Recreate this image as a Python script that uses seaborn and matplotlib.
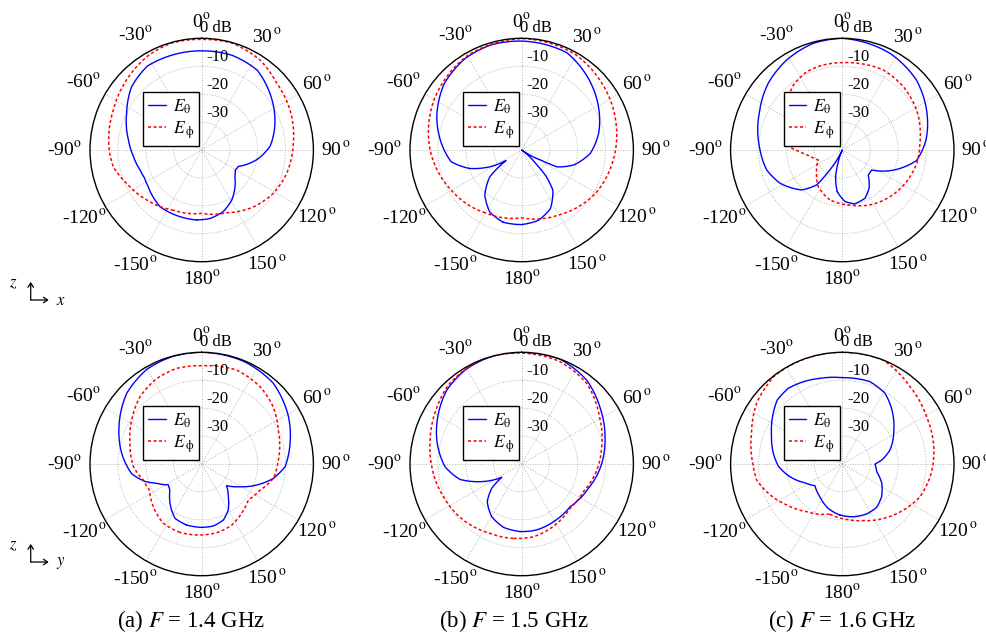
import numpy as np
import pandas as pd
import matplotlib
matplotlib.use("Agg")
import matplotlib.pyplot as plt
from matplotlib.patches import FancyArrowPatch
import seaborn as sns

# ---------------------------------------------------------------
# Radiation patterns (normalised gain in dB) versus angle (deg)
# x-z plane (top row) and y-z plane (bottom row)
# ---------------------------------------------------------------
freq_labels = ["(a) $F$ = 1.4 GHz", "(b) $F$ = 1.5 GHz", "(c) $F$ = 1.6 GHz"]
component_labels = [r"$E_{\mathrm{\theta}}$", r"$E_{\,\mathrm{\phi}}$"]
theta_ticks = [0, 30, 60, 90, 120, 150, 180, -150, -120, -90, -60, -30]
r_ticks = [-30, -20, -10]
r_tick_labels = ["-30", "-20", "-10"]

# x-z plane, 1.4 GHz
xz14_eth_ang = [-176, -162, -144, -124, -116, -108, -95, -82, -64, -48, -33, -18, 0,
                18, 35, 50, 70, 87, 100, 114, 121, 129, 138, 149, 161, 173]
xz14_eth_db = [-14.9, -14.9, -14.8, -16.8, -17.2, -16.8, -15.4, -13.5, -10.1, -6.2, -4.2, -4.4, -4.5,
               -4.4, -5.2, -8.2, -12.1, -15.5, -20.0, -25.6, -26.0, -24.7, -22.2, -19.1, -16.6, -15.3]
xz14_eph_ang = [-155, -132, -114, -101, -90, -66, -47, -30, -16, 0,
                16, 33, 48, 66, 86, 105, 121, 138, 158, 180]
xz14_eph_db = [-16.2, -13.4, -10.6, -7.8, -6.9, -5.3, -3.2, -1.2, -0.2, -0.4,
               -0.2, -1.6, -4.0, -5.3, -7.1, -8.4, -10.0, -12.5, -15.8, -17.3]

# x-z plane, 1.5 GHz
xz15_eth_ang = [-165.6, -152.8, -140.8, -130, -124, -117.8, -109.5, -99.5, -85, -68.4, -49.6, -32, -16.6, 0,
                25, 41.6, 62.4, 77.7, 92.8, 106, 115.5, 118, 126, 134, 137, 142.2, 154, 166.6, 180]
xz15_eth_db = [-13.3, -15.0, -19.1, -25.1, -33.2, -27.1, -20.2, -14.4, -11.1, -7.3, -3.5, -1.5, -0.8, -1.0,
               -1.6, -4.7, -8.8, -11.8, -15.4, -20.6, -26.0, -32.5, -40.0, -33.0, -27.3, -21.8, -16.6, -14.1, -13.3]
xz15_eph_ang = [-150, -120, -90, -60, -30, 0, 30, 60, 90, 120, 150, 180]
xz15_eph_db = [-14.0, -11.0, -7.2, -3.8, -1.0, -0.1, -0.8, -3.5, -6.4, -9.3, -13.2, -15.7]

# x-z plane, 1.6 GHz
xz16_eth_ang = [-173, -166, -161, -155, -148, -143.7, -134.5, -118, -104.8, -87.7, -66.2, -48, -31.7, -15.2, 0,
                26.3, 46.7, 64.6, 83.2, 98, 109.6, 124.3, 134, 145, 154.9, 166.8, 177]
xz16_eth_db = [-25.0, -30.1, -35.6, -40.0, -31.6, -24.5, -19.6, -14.7, -12.0, -10.3, -7.5, -4.3, -2.1, -0.4, 0.0,
               -1.4, -3.5, -6.6, -9.8, -13.1, -19.3, -27.3, -27.1, -23.3, -20.9, -20.2, -21.5]
xz16_eph_ang = [-166, -146.8, -132, -112.6, -100.5, -92.3, -88, -79.3, -61.7, -50, -37, -24.5, -12.6, 0,
                11.5, 27, 44, 61.7, 85, 100, 116, 134.4, 153.3, 172]
xz16_eph_db = [-21.6, -24.3, -27.6, -30.7, -28.2, -24.8, -21.9, -20.7, -17.4, -14.0, -10.9, -9.2, -8.8, -8.7,
               -8.4, -7.8, -8.5, -9.8, -12.1, -12.9, -14.3, -16.1, -18.0, -20.1]

# y-z plane, 1.4 GHz
yz14_eth_ang = [-166, -153.9, -144, -129.4, -122, -113, -107, -98, -82.4, -65.7, -46.7, -30, -15, 0,
                23, 41.6, 61.4, 76.8, 91.8, 101.3, 110.9, 120.6, 131, 140.8, 150, 158.8, 169.3, 180]
yz14_eth_db = [-17.5, -18.3, -21.1, -25.3, -25.9, -22.4, -18.7, -14.7, -11.1, -7.5, -3.1, -0.8, -0.1, 0.0,
               -0.3, -1.35, -4.6, -7.5, -10.1, -13.8, -18.9, -24.0, -28.2, -24.9, -21.0, -18.5, -17.4, -17.3]
yz14_eph_ang = [-162.4, -147, -131.4, -116.4, -105.3, -92, -74, -57.8, -42.5, -27.7, -14.6, 0,
                20.4, 37, 51.3, 66, 87, 101.3, 114, 127.6, 141, 153.8, 167.7, 180]
yz14_eph_db = [-14.3, -14.7, -16.9, -19.1, -18.3, -15.5, -13.3, -10.4, -7.3, -5.4, -4.6, -4.8,
               -4.1, -5.3, -7.2, -10.0, -12.5, -13.8, -17.1, -18.9, -17.3, -15.6, -14.8, -14.6]

# y-z plane, 1.5 GHz
yz15_eth_ang = [-178.6, -164, -150.3, -137.6, -129, -123.7, -113, -104, -92, -74.2, -58.7, -45.4, -31, -16, 0,
                20, 37.7, 55.6, 71.8, 92, 110, 131.4, 151.2, 167]
yz15_eth_db = [-15.8, -16.4, -18.3, -21.7, -26.2, -31.4, -23.8, -17.2, -12.5, -8.4, -5.1, -2.3, -0.7, 0.0, 0.0,
               0.0, -2.0, -5.7, -8.6, -11.7, -14.6, -16.9, -16.4, -15.8]
yz15_eph_ang = [-173.6, -155.4, -133.8, -112.6, -91.7, -75.3, -57.8, -42.9, -26.8, -12.8, 0,
                20, 38.9, 58.6, 77.8, 94.6, 114, 132.5, 151.3, 171]
yz15_eph_db = [-13.2, -12.7, -11.0, -9.6, -7.8, -6.1, -3.7, -1.4, -0.3, 0.0, -0.3,
               -0.8, -2.9, -7.4, -10.7, -13.0, -15.8, -16.5, -15.1, -13.6]

# y-z plane, 1.6 GHz
yz16_eth_ang = [-177.4, -162.5, -145.6, -128.4, -116.6, -103.6, -92, -81.2, -67.7, -55.8, -45.4, -35.5, -25.3, -14.6, 0,
                18.6, 31.1, 41.5, 56.6, 73.6, 84.2, 90, 102.6, 116, 129.7, 141.6, 154, 168.2]
yz16_eth_db = [-21.7, -23.3, -25.8, -27.5, -25.0, -20.7, -17.1, -15.0, -12.6, -9.8, -7.3, -6.7, -7.4, -8.3, -9.1,
               -8.9, -10.4, -13.4, -17.9, -22.2, -25.8, -28.3, -27.4, -24.3, -21.7, -20.2, -20.1, -20.7]
yz16_eph_ang = [-165.8, -143.2, -126.4, -111.6, -100.6, -90, -71.3, -54.7, -37.8, -20, 0,
                21.5, 41.2, 60.7, 81.3, 97.1, 112.8, 127, 143, 159.7, 175.5]
yz16_eph_db = [-21.5, -18.7, -15.3, -11.5, -8.8, -8.0, -5.7, -2.4, -0.2, 0.0, 0.0,
               0.0, -3.2, -5.4, -6.8, -8.1, -9.8, -12.6, -15.6, -18.4, -20.1]

patterns = [
    ("x-z", 0, xz14_eth_ang, xz14_eth_db, xz14_eph_ang, xz14_eph_db),
    ("x-z", 1, xz15_eth_ang, xz15_eth_db, xz15_eph_ang, xz15_eph_db),
    ("x-z", 2, xz16_eth_ang, xz16_eth_db, xz16_eph_ang, xz16_eph_db),
    ("y-z", 0, yz14_eth_ang, yz14_eth_db, yz14_eph_ang, yz14_eph_db),
    ("y-z", 1, yz15_eth_ang, yz15_eth_db, yz15_eph_ang, yz15_eph_db),
    ("y-z", 2, yz16_eth_ang, yz16_eth_db, yz16_eph_ang, yz16_eph_db),
]


def closed_curve(ang, db):
    """Return a closed curve (radians, dB) as a DataFrame in plotting order."""
    ang = list(ang) + [ang[0] + 360]
    db = list(db) + [db[0]]
    return pd.DataFrame({"theta": np.deg2rad(ang), "dB": db})


sns.set_theme(style="white")
plt.rcParams["font.family"] = ["Liberation Serif", "DejaVu Serif"]
plt.rcParams["mathtext.fontset"] = "stix"
plt.rcParams["text.color"] = "black"

W, H = 986, 637
fig = plt.figure(figsize=(W / 100, H / 100), dpi=100)

R = 111.7
centers_x = [201.7, 521.7, 842.3]
centers_y = [150, 464]

for plane, col, a_th, d_th, a_ph, d_ph in patterns:
    row = 0 if plane == "x-z" else 1
    cx, cy = centers_x[col], centers_y[row]
    ax = fig.add_axes([(cx - R) / W, 1 - (cy + R) / H, 2 * R / W, 2 * R / H], projection="polar")
    ax.set_theta_zero_location("N")
    ax.set_theta_direction(-1)

    th = closed_curve(a_th, d_th)
    ph = closed_curve(a_ph, d_ph)
    sns.lineplot(data=th, x="theta", y="dB", sort=False, estimator=None, ax=ax,
                 color="#0000ff", lw=1.0, label=component_labels[0], legend=False)
    sns.lineplot(data=ph, x="theta", y="dB", sort=False, estimator=None, ax=ax,
                 color="#ff0000", lw=1.1, dashes=False, label=component_labels[1], legend=False)
    curves = ax.get_lines()[:2]
    curves[1].set_linestyle((0, (2.0, 1.6)))
    # join successive samples along polar arcs rather than chords
    for ln in curves:
        ln.get_path()._interpolation_steps = 40

    ax.set_rlim(-40, 0)
    ax.set_xticks(np.deg2rad(np.arange(0, 360, 30)))
    ax.set_xticklabels([])
    ax.set_yticks(r_ticks)
    ax.set_yticklabels([])
    ax.set_xlabel("")
    ax.set_ylabel("")
    ax.grid(True, color="#b4b4b4", linestyle=":", linewidth=0.7)
    ax.spines["polar"].set_color("black")
    ax.spines["polar"].set_linewidth(1.0)

    # angular labels around the rim
    for ang in theta_ticks:
        t = np.deg2rad(ang)
        s, c = np.sin(t), np.cos(t)
        if ang > 0 and ang != 180:
            txt = f"{ang}" + r"$^{\,\mathrm{o}}$"
        else:
            txt = f"{ang}" + r"$^{\mathrm{o}}$"
        d = 12.0 + 4.0 * abs(s) + (2.5 if ang < 0 and ang > -180 else 0.0) * abs(s)
        ax.annotate(txt, xy=(t, 0), xytext=(d * s, d * c), textcoords="offset points",
                    ha="center", va="center", fontsize=14, color="black", annotation_clip=False)

    # radial labels next to the 0 deg spoke
    for v, lab in zip(r_ticks, r_tick_labels):
        ax.annotate(lab, xy=(0, v), xytext=(3.5, 1.0), textcoords="offset points",
                    ha="left", va="bottom", fontsize=12, color="black", annotation_clip=False)
    ax.annotate("0 dB", xy=(0, 0), xytext=(-1.0, 1.5), textcoords="offset points",
                ha="left", va="bottom", fontsize=12, color="black", annotation_clip=False)

    leg = ax.legend(handles=curves, labels=component_labels, loc="lower right",
                    bbox_to_anchor=(0.489, 0.518), borderaxespad=0, frameon=True, fancybox=False,
                    edgecolor="black", framealpha=1, fontsize=12.5, handlelength=1.0,
                    handletextpad=0.4, borderpad=0.3, labelspacing=0.2)
    leg.get_frame().set_linewidth(1.0)
    for t in leg.get_texts():
        t.set_color("black")

# sub-figure captions
caption_x = [191, 514, 842]
for x, lab in zip(caption_x, freq_labels):
    fig.text(x / W, 1 - 621 / H, lab, ha="center", va="center", fontsize=16.5, color="black")

# coordinate-system glyphs on the left of each row
for corner_y, hlab in [(300, "$x$"), (562, "$y$")]:
    x0, y0 = 30.7, H - corner_y
    for x1, y1 in [(x0, y0 + 18), (x0 + 18, y0)]:
        fig.add_artist(FancyArrowPatch((x0 / W, y0 / H), (x1 / W, y1 / H), transform=fig.transFigure,
                                       arrowstyle="->,head_length=3,head_width=2", lw=0.9,
                                       color="black", shrinkA=0, shrinkB=0))
    fig.text(13 / W, (y0 + 17) / H, "$z$", ha="center", va="center", fontsize=12, color="black")
    fig.text(61 / W, (y0 - 1) / H, hlab, ha="center", va="center", fontsize=12, color="black")

fig.savefig("out.png", dpi=100)
